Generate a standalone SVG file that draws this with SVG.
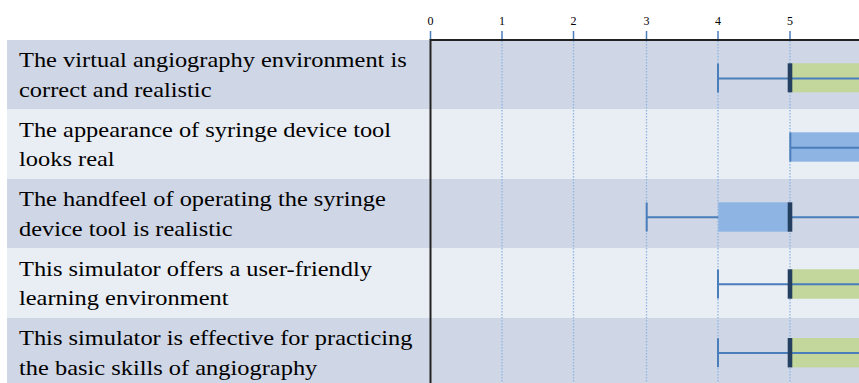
<svg xmlns="http://www.w3.org/2000/svg" width="859" height="383" viewBox="0 0 859 383">
<style>
.rowd{fill:#CFD6E5}
.rowl{fill:#E9EDF4}
.lbl{font-family:"Liberation Serif","Times New Roman",serif;font-size:21px;fill:#000}
.tick{font-family:"Liberation Serif","Times New Roman",serif;font-size:12px;fill:#000;text-anchor:middle}
.tk{stroke:#4A7EBB;stroke-width:1.5}
.grid{stroke:#8EB4E3;stroke-width:1.3;stroke-dasharray:1.5 1.5}
.wh{stroke:#4A7EBB;stroke-width:2;fill:none}
.cap{fill:#4A7EBB}
.med{fill:#243F60}
.boxg{fill:#C3D69B}
.boxb{fill:#8EB4E3}
</style>
<rect x="0" y="0" width="859" height="383" fill="#fff"/>
<g id="rows">
<rect class="rowd" x="7" y="40" width="852" height="69.5"/>
<rect class="rowl" x="7" y="109.5" width="852" height="69.5"/>
<rect class="rowd" x="7" y="179" width="852" height="69.5"/>
<rect class="rowl" x="7" y="248.5" width="852" height="69.5"/>
<rect class="rowd" x="7" y="318" width="852" height="65"/>
</g>
<g id="axis">
<g class="tk">
<line x1="430.5" y1="31" x2="430.5" y2="40"/>
<line x1="502" y1="31" x2="502" y2="40"/>
<line x1="573.5" y1="31" x2="573.5" y2="40"/>
<line x1="646.5" y1="31" x2="646.5" y2="40"/>
<line x1="718" y1="31" x2="718" y2="40"/>
<line x1="790" y1="31" x2="790" y2="40"/>
</g>
<text class="tick" x="430.5" y="25">0</text>
<text class="tick" x="502" y="25">1</text>
<text class="tick" x="573.5" y="25">2</text>
<text class="tick" x="646.5" y="25">3</text>
<text class="tick" x="718" y="25">4</text>
<text class="tick" x="790" y="25">5</text>
<text class="tick" x="862" y="25">6</text>
<g class="grid">
<line x1="502" y1="41" x2="502" y2="383"/>
<line x1="573.5" y1="41" x2="573.5" y2="383"/>
<line x1="646.5" y1="41" x2="646.5" y2="383"/>
<line x1="718" y1="41" x2="718" y2="383"/>
<line x1="790" y1="41" x2="790" y2="383"/>
</g>
</g>
<g id="row1">
<g transform="translate(19 0) scale(1.163 1)">
<text class="lbl" x="0" y="67.5">The virtual angiography environment is</text>
<text class="lbl" x="0" y="97">correct and realistic</text>
</g>
<rect class="boxg" x="790" y="63.3" width="69" height="29"/>
<line class="wh" x1="718" y1="78.5" x2="859" y2="78.5"/>
<rect class="cap" x="717" y="63.5" width="2" height="29"/>
<rect class="med" x="787.7" y="63.3" width="4.6" height="29"/>
</g>
<g id="row2">
<g transform="translate(19 0) scale(1.163 1)">
<text class="lbl" x="0" y="137">The appearance of syringe device tool</text>
<text class="lbl" x="0" y="166.5">looks real</text>
</g>
<rect class="boxb" x="790" y="132.3" width="69" height="29.4"/>
<line class="wh" x1="790" y1="147.7" x2="859" y2="147.7"/>
<rect class="cap" x="789.3" y="132.5" width="2" height="29"/>
</g>
<g id="row3">
<g transform="translate(19 0) scale(1.163 1)">
<text class="lbl" x="0" y="206.5">The handfeel of operating the syringe</text>
<text class="lbl" x="0" y="236">device tool is realistic</text>
</g>
<rect class="boxb" x="718.3" y="202.3" width="70" height="29.4"/>
<line class="wh" x1="646.5" y1="217.3" x2="718.3" y2="217.3"/>
<line class="wh" x1="792" y1="217.3" x2="859" y2="217.3"/>
<rect class="cap" x="645.7" y="202.5" width="2" height="29"/>
<rect class="med" x="787.7" y="202.3" width="4.6" height="29.4"/>
</g>
<g id="row4">
<g transform="translate(19 0) scale(1.163 1)">
<text class="lbl" x="0" y="276">This simulator offers a user-friendly</text>
<text class="lbl" x="0" y="305.5">learning environment</text>
</g>
<rect class="boxg" x="790" y="269.3" width="69" height="29.4"/>
<line class="wh" x1="718" y1="284.3" x2="859" y2="284.3"/>
<rect class="cap" x="717" y="269.5" width="2" height="29"/>
<rect class="med" x="787.7" y="269.3" width="4.6" height="29.4"/>
</g>
<g id="row5">
<g transform="translate(19 0) scale(1.163 1)">
<text class="lbl" x="0" y="345.5">This simulator is effective for practicing</text>
<text class="lbl" x="0" y="375">the basic skills of angiography</text>
</g>
<rect class="boxg" x="790" y="338" width="69" height="29.4"/>
<line class="wh" x1="718" y1="353" x2="859" y2="353"/>
<rect class="cap" x="717" y="338.2" width="2" height="29"/>
<rect class="med" x="787.7" y="338" width="4.6" height="29.4"/>
</g>
<g id="frame">
<line x1="430.5" y1="40" x2="859" y2="40" stroke="#222" stroke-width="2"/>
<line x1="430.5" y1="39" x2="430.5" y2="383" stroke="#222" stroke-width="2"/>
</g>
</svg>
